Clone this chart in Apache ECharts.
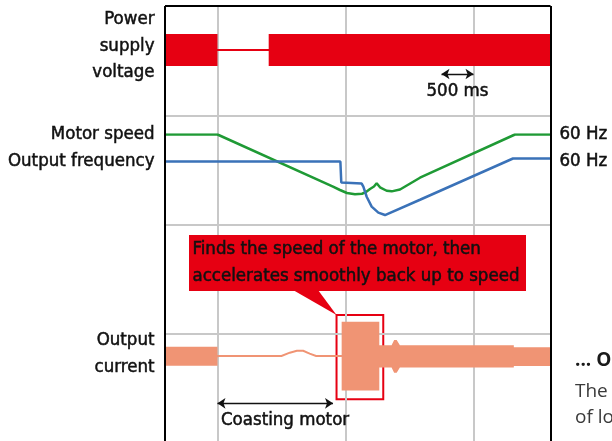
<!DOCTYPE html>
<html><head><meta charset="utf-8">
<script src="https://cdn.jsdelivr.net/npm/echarts@6/dist/echarts.min.js"></script>
<style>html,body{margin:0;padding:0;background:#fff}#c{width:612px;height:441px}</style>
</head><body><div id="c"></div>
<script>
// ---- time axis (ms), 0 = moment the power supply is lost ----
const T_MIN = -820, T_MAX = 5203;
const gridLinesMs = [0, 2000, 4000];
const gridLinesRow = [1, 2, 3];
const ROW_MAX = 3.98;

// ---- Power supply voltage: envelope (normalised amplitude) ----
const voltT  = [-820, 0, 0, 800, 800, 5203];
const voltUp = [1, 1, 0, 0, 1, 1];
const voltLo = [-1, -1, 0, 0, -1, -1];

// ---- Motor speed (Hz) ----
const speedT  = [-820, 0, 1805, 1914, 2023, 2148, 2258, 2310, 2383, 2445, 2487, 2539, 2643, 2722, 2852, 3164, 4648, 5203];
const speedHz = [60, 60, 25.2, 23.0, 21.0, 20.1, 20.5, 21.4, 23.7, 25.3, 27.5, 24.8, 22.5, 22.1, 23.3, 31.2, 60, 60];

// ---- Output frequency (Hz) ----
const freqT  = [-820, 1920, 1934, 1953, 2253, 2279, 2331, 2409, 2513, 2617, 3164, 4617, 5203];
const freqHz = [58.0, 58.0, 44.0, 43.3, 43.3, 41.2, 34.5, 27.9, 23.9, 22.3, 32.5, 60, 60];

// ---- Output current: envelope (% of nominal) ----
const curT  = [-820, 0, 0, 1000, 1130, 1240, 1340, 1440, 1540, 1940, 1940, 2528, 2528, 2720, 2760, 2800, 2850, 4630, 4630, 5203];
const curUp = [98, 98, 0, 0, 35, 55, 55, 25, 0, 0, 361, 361, 113, 113, 168, 168, 113, 113, 91, 91];
const curLo = [-102, -102, 0, 0, 35, 55, 55, 25, 0, 0, -363, -363, -121, -121, -176, -176, -121, -121, -105, -105];

// ---- annotations ----
const scaleBarMs = [3500, 4000];
const scaleBarRow = 0.622;
const coastMs = [0, 1805];
const coastRow = 3.635;
const searchBoxMs = [1860, 2590];
const searchBoxCur = [-455, 432];

const RED = '#e60012', SALMON = '#f09474', GREEN = '#1f9a35', BLUE = '#3a72b8', GRIDC = '#c8c8c8';
const F = "'DejaVu Sans Condensed', 'DejaVu Sans', sans-serif";
const FS = 18.5;
const LEFT = 165, WIDTH = 385.5;

const pairs = (t, v) => t.map((x, i) => [x, v[i]]);

// envelope band drawn as one polygon (+ mid line for the zero-width parts) through the axes' scales
function bandSeries(name, xi, yi, t, up, lo, color, lw) {
  return {
    type: 'custom', name: name, xAxisIndex: xi, yAxisIndex: yi, z: 3, silent: true,
    data: t.map((x, i) => [x, up[i], lo[i]]),
    encode: {x: 0, y: [1, 2]},
    renderItem: function (params, api) {
      if (params.dataIndex !== 0) return;
      const top = t.map((x, i) => api.coord([x, up[i]]));
      const bot = t.map((x, i) => api.coord([x, lo[i]])).reverse();
      const mid = t.map((x, i) => api.coord([x, (up[i] + lo[i]) / 2]));
      return {type: 'group', children: [
        {type: 'polygon', shape: {points: top.concat(bot)}, style: {fill: color}},
        {type: 'polyline', shape: {points: mid}, style: {stroke: color, lineWidth: lw, fill: null}}
      ]};
    }
  };
}

const chart = echarts.init(document.getElementById('c'), null, {renderer: 'canvas'});
const xa = (gi) => ({type: 'value', gridIndex: gi, min: T_MIN, max: T_MAX, show: false, splitLine: {show: false}});
const labelFont = {fontFamily: F, fontSize: FS, color: '#111', textBorderColor: '#111', textBorderWidth: 0.5};

const option = {
  animation: false,
  grid: [
    {left: LEFT, width: WIDTH, top: 6, height: 435},
    {left: LEFT, width: WIDTH, top: 34, height: 32},
    {left: LEFT, width: WIDTH, top: 134.5, height: 90},
    {left: LEFT, width: WIDTH, top: 271, height: 170}
  ],
  xAxis: [xa(0), xa(1), xa(2), xa(3)],
  yAxis: [
    {type: 'value', gridIndex: 0, min: 0, max: ROW_MAX, inverse: true, show: false, splitLine: {show: false}},
    {type: 'value', gridIndex: 1, min: -1, max: 1, show: false, splitLine: {show: false}},
    {type: 'value', gridIndex: 2, min: 0, max: 60, show: false, splitLine: {show: false}},
    {type: 'value', gridIndex: 2, min: 16, max: 76, show: false, splitLine: {show: false}},
    {type: 'value', gridIndex: 3, min: -895, max: 895, show: false, splitLine: {show: false}}
  ],
  series: [
    {type: 'line', name: 'grid', xAxisIndex: 0, yAxisIndex: 0, data: [], z: 1, silent: true,
     markLine: {silent: true, symbol: ['none', 'none'], label: {show: false}, z: 1,
       lineStyle: {color: GRIDC, width: 2, type: 'solid'},
       data: [...gridLinesMs.map(v => ({xAxis: v})), ...gridLinesRow.map(v => ({yAxis: v}))]}},
    {type: 'line', name: 'frame', xAxisIndex: 0, yAxisIndex: 0, data: [], z: 8, silent: true,
     markLine: {silent: true, symbol: ['none', 'none'], label: {show: false}, z: 8,
       lineStyle: {color: '#000', width: 2, type: 'solid'},
       data: [{xAxis: T_MIN}, {xAxis: T_MAX}, {yAxis: 0}]}},
    bandSeries('volt', 1, 1, voltT, voltUp, voltLo, RED, 2),
    {type: 'line', name: 'speed', xAxisIndex: 2, yAxisIndex: 2, data: pairs(speedT, speedHz), symbol: 'none',
     lineStyle: {color: GREEN, width: 2.5}, z: 4,
     endLabel: Object.assign({show: true, formatter: p => Math.round(p.value[1]) + ' Hz', distance: 9}, labelFont)},
    {type: 'line', name: 'freq', xAxisIndex: 2, yAxisIndex: 3, data: pairs(freqT, freqHz), symbol: 'none',
     lineStyle: {color: BLUE, width: 2.5}, z: 4,
     endLabel: Object.assign({show: true, formatter: p => Math.round(p.value[1]) + ' Hz', distance: 9, offset: [0, 2.5]}, labelFont)},
    bandSeries('cur', 3, 4, curT, curUp, curLo, SALMON, 2),
    {type: 'line', name: 'search', xAxisIndex: 3, yAxisIndex: 4, data: [], z: 6,
     markArea: {silent: true, itemStyle: {color: 'rgba(0,0,0,0)', borderColor: RED, borderWidth: 2},
       data: [[{coord: [searchBoxMs[0], searchBoxCur[1]]}, {coord: [searchBoxMs[1], searchBoxCur[0]]}]]}},
    {type: 'line', name: 'arrows', xAxisIndex: 0, yAxisIndex: 0, data: [], z: 6,
     markLine: {silent: true, symbol: ['arrow', 'arrow'], symbolSize: 8, label: {show: false},
       lineStyle: {color: '#111', width: 1.3, type: 'solid'},
       data: [
         [{coord: [scaleBarMs[0], scaleBarRow]}, {coord: [scaleBarMs[1], scaleBarRow]}],
         [{coord: [coastMs[0], coastRow]}, {coord: [coastMs[1], coastRow]}]
       ]}}
  ]
};
chart.setOption(option);

// ---- text annotations ----
const txt = (text, x, y, align, extra) => Object.assign({
  type: 'text', x: x, y: y, z: 20,
  style: Object.assign({text: text, fill: '#111', stroke: '#111', lineWidth: 0.5,
    font: FS + "px " + F, textAlign: align, textVerticalAlign: 'middle'}, extra || {})
});
const tip = chart.convertToPixel({gridIndex: 3}, [searchBoxMs[0], searchBoxCur[1]]);
const sb = chart.convertToPixel({gridIndex: 0}, [(scaleBarMs[0] + scaleBarMs[1]) / 2, scaleBarRow]);
const co = chart.convertToPixel({gridIndex: 0}, [coastMs[0], coastRow]);

chart.setOption({
  graphic: [
    txt('Power', 154.5, 19.5, 'right'),
    txt('supply', 154.5, 46, 'right'),
    txt('voltage', 154.5, 72.5, 'right'),
    txt('Motor speed', 154.5, 134, 'right'),
    txt('Output frequency', 154.5, 161, 'right'),
    txt('Output', 154.5, 340.5, 'right'),
    txt('current', 154.5, 367, 'right'),
    txt('500 ms', sb[0], sb[1] + 17, 'center'),
    txt('Coasting motor', co[0] + 3.5, co[1] + 17, 'left'),
    {type: 'rect', z: 15, shape: {x: 189, y: 235, width: 337, height: 56}, style: {fill: RED}},
    {type: 'polygon', z: 15, shape: {points: [[293, 290], [318, 290], [tip[0], tip[1]]]}, style: {fill: RED}},
    txt('Finds the speed of the motor, then', 192.5, 249.5, 'left'),
    txt('accelerates smoothly back up to speed', 192.5, 276.5, 'left'),
    txt('... O', 575, 361, 'left', {font: "bold 19px 'Open Sans', sans-serif", fill: '#1a1a1a', lineWidth: 0}),
    txt('The', 575, 391.5, 'left', {font: "19px 'Open Sans', sans-serif", fill: '#3a3a3a', lineWidth: 0}),
    txt('of lo', 575, 418, 'left', {font: "19px 'Open Sans', sans-serif", fill: '#3a3a3a', lineWidth: 0})
  ]
});
</script>
</body></html>
